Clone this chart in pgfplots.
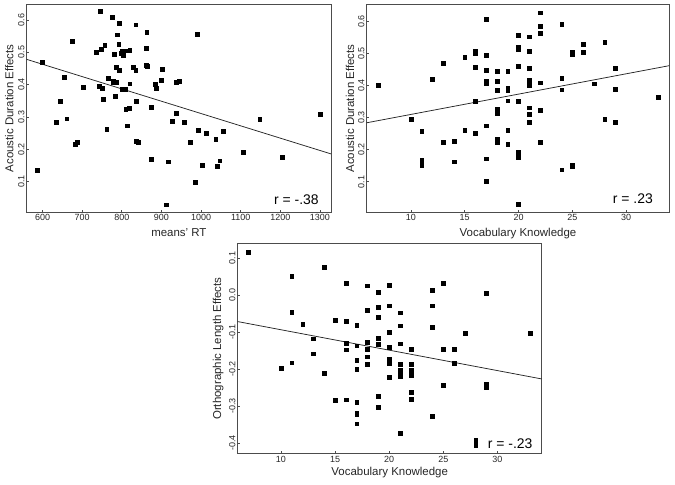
\documentclass[border=0pt]{standalone}
\usepackage{fontspec}
\setmainfont{Liberation Sans}
\usepackage{pgfplots}
\pgfplotsset{compat=1.18}
\pgfplotsset{
  sp/.style={
    scale only axis,
    axis line style={black!70, line width=0.8bp},
    tick align=inside,
    major tick length=2.2bp,
    tick style={black!70, line width=0.7bp},
    xtick pos=bottom, ytick pos=left,
    /pgf/number format/assume math mode=true,
    /pgf/number format/1000 sep={},
    tick label style={font=\fontsize{9}{9.5}\selectfont, black!85},
    yticklabel style={rotate=90, anchor=south, inner sep=2bp},
    xticklabel style={inner sep=2bp},
    label style={font=\fontsize{11.5}{12}\selectfont, black!85},
    xlabel style={at={(axis description cs:0.5,0)}, anchor=base, yshift=-24.5bp},
    clip=false,
  },
  dots/.style={only marks, mark=square*, mark size=1.9bp, black},
  fit/.style={no marks, black!85, line width=0.75bp},
}
\begin{document}
\begin{tikzpicture}
\useasboundingbox (0,0) rectangle (675bp,485bp);
% ---------------- top-left
\begin{axis}[sp,
  at={(26.7bp,272.5bp)}, anchor=south west,
  width=304.3bp, height=208.5bp,
  xmin=560, xmax=1328, ymin=0.005, ymax=0.649,
  xtick={600,700,800,900,1000,1100,1200,1300},
  ytick={0.1,0.2,0.3,0.4,0.5,0.6},
  yticklabel style={/pgf/number format/.cd, fixed, fixed zerofill, precision=1},
  xlabel={means' RT},
  ylabel={Acoustic Duration Effects},
  ylabel style={at={(axis description cs:-0.057,0.5)}, anchor=center},
]
\addplot[dots] coordinates {
(587,0.136)(599,0.469)(654,0.424)(644,0.350)(634,0.284)(661,0.295)(675,0.534)
(702,0.392)(682,0.216)(687,0.222)(746,0.627)(776,0.607)(794,0.590)(835,0.585)
(863,0.563)(789,0.554)(990,0.555)(735,0.500)(748,0.509)(757,0.522)(781,0.495)
(792,0.526)(801,0.505)(804,0.491)(799,0.497)(812,0.505)(820,0.506)(862,0.513)
(786,0.455)(793,0.445)(829,0.455)(835,0.445)(862,0.460)(864,0.458)(901,0.448)
(766,0.421)(779,0.412)(787,0.407)(779,0.407)(742,0.394)(750,0.388)(801,0.386)
(809,0.386)(820,0.403)(784,0.365)(753,0.354)(836,0.350)(810,0.323)(818,0.327)
(874,0.330)(884,0.402)(886,0.389)(899,0.414)(937,0.407)(945,0.410)(938,0.312)
(928,0.286)(958,0.284)(762,0.262)(814,0.273)(836,0.225)(841,0.223)(875,0.170)
(918,0.162)(913,0.029)(973,0.222)(993,0.259)(1014,0.251)(1037,0.231)(1056,0.257)
(985,0.099)(1002,0.152)(1041,0.147)(1047,0.165)(1106,0.191)(1148,0.294)
(1205,0.176)(1300,0.308)
};
\addplot[fit] coordinates {(560,0.478)(1328,0.186)};
\node[anchor=base east, font=\fontsize{14}{15}\selectfont] at (axis description cs:0.971,0.04) {r = -.38};
\end{axis}
% ---------------- top-right
\begin{axis}[sp,
  at={(366.7bp,272.7bp)}, anchor=south west,
  width=302.6bp, height=207.6bp,
  xmin=5.9, xmax=34.0, ymin=0.005, ymax=0.652,
  xtick={10,15,20,25,30},
  ytick={0.1,0.2,0.3,0.4,0.5,0.6},
  yticklabel style={/pgf/number format/.cd, fixed, fixed zerofill, precision=1},
  xlabel={Vocabulary Knowledge},
  ylabel={Acoustic Duration Effects},
  ylabel style={at={(axis description cs:-0.055,0.5)}, anchor=center},
]
\addplot[dots] coordinates {
(7,0.400)(10,0.294)(11,0.257)(11,0.167)(11,0.153)(12,0.420)(13,0.470)(13,0.223)
(14,0.226)(14,0.163)(15,0.489)(15,0.260)(16,0.508)(16,0.501)(16,0.457)(16,0.351)
(16,0.251)(17,0.606)(17,0.495)(17,0.448)(17,0.413)(17,0.407)(17,0.275)(17,0.172)
(17,0.101)(18,0.445)(18,0.414)(18,0.386)(18,0.328)(18,0.322)(18,0.315)(18,0.233)
(18,0.222)(19,0.445)(19,0.393)(19,0.384)(19,0.353)(19,0.262)(19,0.217)(20,0.556)
(20,0.521)(20,0.513)(20,0.461)(20,0.351)(20,0.193)(20,0.177)(20,0.031)(21,0.552)
(21,0.508)(21,0.453)(21,0.416)(21,0.410)(21,0.402)(21,0.331)(21,0.310)(21,0.286)
(22,0.627)(22,0.586)(22,0.563)(22,0.409)(22,0.324)(22,0.224)(24,0.590)(24,0.424)
(24,0.387)(24,0.138)(25,0.504)(25,0.498)(25,0.151)(25,0.148)(26,0.528)(26,0.505)
(27,0.406)(28,0.534)(28,0.297)(28,0.294)(29,0.454)(29,0.388)(29,0.286)(33,0.364)
};
\addplot[fit] coordinates {(5.9,0.284)(34.0,0.462)};
\node[anchor=base east, font=\fontsize{14}{15}\selectfont] at (axis description cs:0.957,0.04) {r = .23};
\end{axis}
% ---------------- bottom
\begin{axis}[sp,
  at={(237.7bp,31.3bp)}, anchor=south west,
  width=304bp, height=210.2bp,
  xmin=6.0, xmax=34.1, ymin=-0.429, ymax=0.139,
  xtick={10,15,20,25,30},
  ytick={-0.4,-0.3,-0.2,-0.1,0,0.1},
  yticklabel style={/pgf/number format/.cd, fixed, fixed zerofill, precision=1},
  xlabel={Vocabulary Knowledge},
  xlabel style={yshift=2.5bp},
  ylabel={Orthographic Length Effects},
  ylabel style={at={(axis description cs:-0.064,0.5)}, anchor=center},
]
\addplot[dots] coordinates {
(7,0.115)(10,-0.197)(11,0.050)(11,-0.047)(11,-0.183)(12,-0.080)(13,-0.118)(13,-0.159)
(14,0.075)(14,-0.211)(15,-0.068)(15,-0.285)(16,0.031)(16,-0.070)(16,-0.131)(16,-0.148)
(16,-0.283)(17,-0.082)(17,-0.137)(17,-0.176)(17,-0.201)(17,-0.290)(17,-0.318)(17,-0.323)
(17,-0.348)(18,0.025)(18,-0.042)(18,-0.127)(18,-0.147)(18,-0.167)(18,-0.187)(19,0.007)
(19,-0.033)(19,-0.061)(19,-0.116)(19,-0.134)(19,-0.274)(19,-0.304)(20,0.027)(20,-0.029)
(20,-0.101)(20,-0.142)(20,-0.173)(20,-0.180)(20,-0.185)(20,-0.223)(21,-0.048)(21,-0.083)
(21,-0.132)(21,-0.187)(21,-0.202)(21,-0.209)(21,-0.215)(21,-0.220)(21,-0.374)(22,-0.147)
(22,-0.187)(22,-0.203)(22,-0.210)(22,-0.218)(22,-0.262)(22,-0.281)(24,0.013)(24,-0.029)
(24,-0.088)(24,-0.328)(25,0.031)(25,-0.147)(25,-0.244)(26,-0.147)(26,-0.185)(27,-0.103)
(28,-0.392)(28,-0.406)(29,0.004)(29,-0.245)(29,-0.240)(29,-0.250)(33,-0.103)
};
\addplot[fit] coordinates {(6.0,-0.072)(34.1,-0.227)};
\node[anchor=base east, font=\fontsize{14}{15}\selectfont] at (axis description cs:0.981,0.026) {r = -.23};
\end{axis}
\end{tikzpicture}
\end{document}
